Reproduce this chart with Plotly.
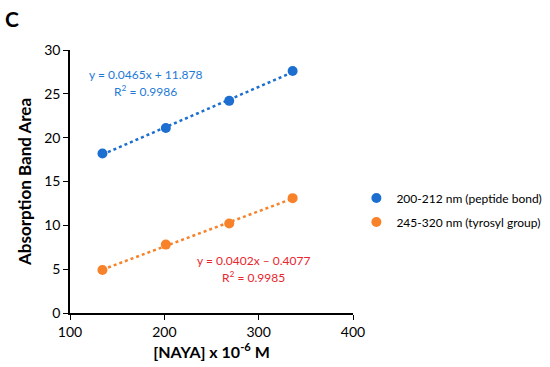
import numpy as np
import plotly.graph_objects as go

naya = [134.4, 201.6, 268.8, 336.0]
peptide = [18.2, 21.1, 24.2, 27.6]
tyrosyl = [4.9, 7.8, 10.2, 13.1]
names = ["200-212 nm (peptide bond)", "245-320 nm (tyrosyl group)"]
eq_texts = [["y = 0.0465x + 11.878", "R<sup>2</sup> = 0.9986"],
            ["y = 0.0402x – 0.4077", "R<sup>2</sup> = 0.9985"]]

blue = "#1C6FD1"
orange = "#F7822A"
font = "Lato, Open Sans, sans-serif"

fig = go.Figure()
for i, (ys, col, nm) in enumerate([(peptide, blue, names[0]), (tyrosyl, orange, names[1])]):
    m, b = np.polyfit(naya, ys, 1)
    xs = np.array([naya[0], naya[-1]])
    fig.add_trace(go.Scatter(x=xs, y=m * xs + b, mode="lines",
                             line=dict(color=col, width=2.5, dash="dot"),
                             showlegend=False, hoverinfo="skip"))
    fig.add_trace(go.Scatter(x=naya, y=ys, mode="markers", name=nm,
                             legendgroup=f"g{i}",
                             marker=dict(color=col, size=10)))

ann = [
    (180, 27.2, eq_texts[0][0], "#1E7AD6"),
    (180, 25.3, eq_texts[0][1], "#1E7AD6"),
    (295, 6.0, eq_texts[1][0], "#E8262E"),
    (295, 4.1, eq_texts[1][1], "#E8262E"),
]
for x, y, t, c in ann:
    fig.add_annotation(x=x, y=y, text=t, showarrow=False,
                       font=dict(color=c, size=12, family=font))

fig.update_layout(
    width=550, height=367,
    margin=dict(l=70, r=197, t=50, b=54, autoexpand=False),
    paper_bgcolor="white", plot_bgcolor="white",
    font=dict(family=font, size=14, color="black"),
    legend=dict(x=0.648, y=0.428, xref="container", yref="container",
                xanchor="left", yanchor="middle",
                font=dict(size=12, color="black"), itemwidth=30,
                traceorder="grouped", tracegroupgap=5),
    xaxis=dict(range=[100, 400], dtick=100, showgrid=False, zeroline=False,
               showline=True, linecolor="black", linewidth=1.5, automargin=False,
               ticks="outside", ticklen=5, tickcolor="black",
               title=dict(text="<b>[NAYA] x 10<sup>-6</sup> M</b>", font=dict(size=16), standoff=8)),
    yaxis=dict(range=[0, 30], dtick=5, showgrid=False, zeroline=False,
               showline=True, linecolor="black", linewidth=1.5, automargin=False,
               ticks="outside", ticklen=5, tickcolor="black",
               title=dict(text="<b>Absorption Band Area</b>", font=dict(size=17), standoff=8)),
)
fig.add_annotation(x=0, y=1, xref="paper", yref="paper", xshift=-58, yshift=32,
                   text="<b>C</b>", showarrow=False, xanchor="center", yanchor="middle",
                   font=dict(size=21, family=font))
fig.write_html("out.html", config={"displayModeBar": False},
               post_script="document.body.style.margin='0';")
